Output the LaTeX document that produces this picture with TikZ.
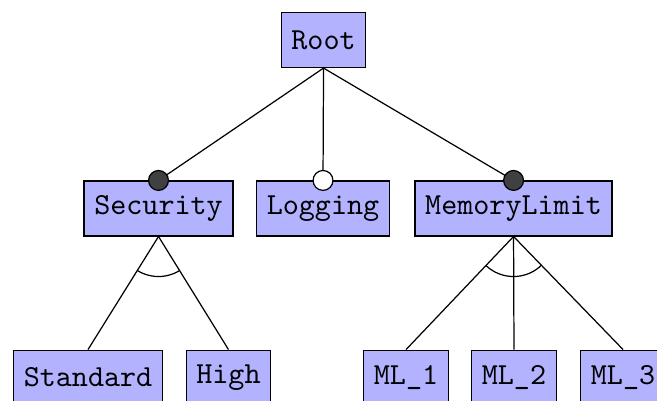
\documentclass[tikz,border=0pt]{standalone}
\usepackage{xcolor}
\usepackage{tikz}

\tikzset{
  feature/.style={draw, fill=blue!30, minimum height=6.3mm, font=\ttfamily},
  mandatory/.style={draw, circle, fill=black!75, inner sep=0pt, minimum size=6.5pt},
  optional/.style={draw, circle, fill=white, inner sep=0pt, minimum size=6.5pt}
}

\begin{document}
\begin{tikzpicture}
    \useasboundingbox (0,0) rectangle (7.548,-4.596);
    \clip (0,0) rectangle (7.548,-4.596);

    \node[feature] (root) at (3.717,-0.460) {Root};

    \node[feature] (security) at (1.821,-2.395) {Security};
    \node[feature] (logging) at (3.711,-2.395) {Logging};
    \node[feature] (memlimit) at (5.900,-2.395) {MemoryLimit};

    \node[feature] (standard) at (1.011,-4.338) {Standard};
    \node[feature] (high) at (2.625,-4.338) {High};
    \node[feature] (ml1) at (4.665,-4.338) {ML\_1};
    \node[feature] (ml2) at (5.905,-4.338) {ML\_2};
    \node[feature] (ml3) at (7.158,-4.338) {ML\_3};

    % edges from the root
    \draw (root.south) -- (security.north);
    \draw (root.south) -- (logging.north);
    \draw (root.south) -- (memlimit.north);
    \node[mandatory] (secdot) at (security.north) {};
    \node[optional] (logdot) at (logging.north) {};
    \node[mandatory] (memdot) at (memlimit.north) {};

    % alternative groups
    \draw (security.south) -- (standard.north);
    \draw (security.south) -- (high.north);
    \begin{scope}
        \clip (security.south) -- (standard.north) -- (high.north) -- cycle;
        \draw (security.south) circle (0.46);
    \end{scope}

    \draw (memlimit.south) -- (ml1.north);
    \draw (memlimit.south) -- (ml2.north);
    \draw (memlimit.south) -- (ml3.north);
    \begin{scope}
        \clip (memlimit.south) -- (ml1.north) -- (ml3.north) -- cycle;
        \draw (memlimit.south) circle (0.46);
    \end{scope}

\end{tikzpicture}
\end{document}
